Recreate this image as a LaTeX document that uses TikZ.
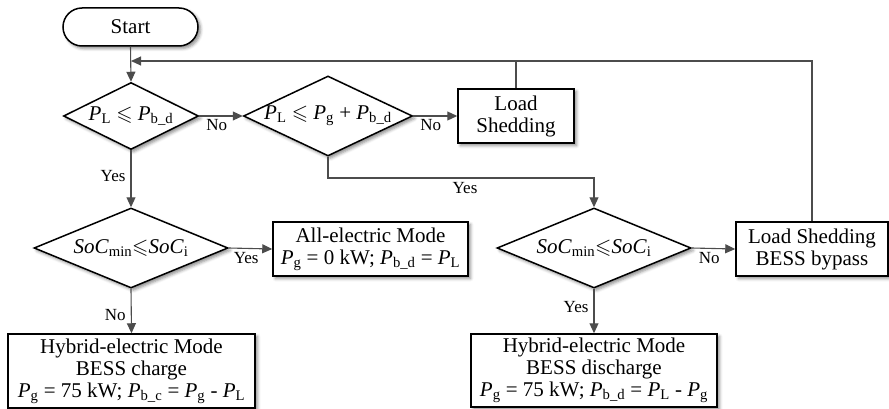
\documentclass[tikz,border=0pt]{standalone}
\usepackage{amssymb}
\usepackage{fontspec}
\setmainfont{Liberation Serif}
\usetikzlibrary{shapes.geometric,shapes.misc,arrows.meta,shadows.blur}
\newcommand\Pw[1]{\textit{P}\textsubscript{#1}}
\newcommand\Socw[1]{\textit{SoC}\textsubscript{#1}}
\begin{document}
\begin{tikzpicture}[x=1pt,y=-1pt,
  shad/.style={blur shadow={shadow xshift=2.5pt,shadow yshift=-2.5pt,shadow blur radius=3pt,shadow opacity=45}},
  txt/.style={font=\fontsize{21}{22}\selectfont},
  boxn/.style={txt,draw=black,line width=1.5pt,fill=white,shad,rectangle,align=center,inner sep=0pt},
  dia/.style={draw=black,line width=1.5pt,fill=white,shad,diamond,inner sep=0pt},
  term/.style={txt,draw=black,line width=1.5pt,fill=white,shad,rounded rectangle,inner sep=0pt},
  conn/.style={draw=black!70,line width=1.1pt},
  arr/.style={conn,-{Triangle[length=10pt,width=9pt]}},
  lab/.style={font=\fontsize{17}{18}\selectfont,inner sep=1pt}]
\useasboundingbox (0,0) rectangle (889,409);
% nodes
\node[term,minimum width=135,minimum height=38] (start) at (130.5,27) {Start};
\coordinate (merge) at (131,61);
\node[dia,minimum width=135,minimum height=67] (d1) at (131,116) {};
\node[txt,inner sep=0pt] (d1t) at (131,116) {\Pw{L} $\leqslant$ \Pw{b\_d}};
\node[dia,minimum width=169,minimum height=80] (d2) at (328,116) {};
\node[txt,inner sep=0pt] (d2t) at (328,116) {\Pw{L} $\leqslant$ \Pw{g} + \Pw{b\_d}};
\node[boxn,minimum width=116,minimum height=54] (ls) at (516,116) {Load\\Shedding};
\node[dia,minimum width=194,minimum height=80] (d3a) at (131,248) {};
\node[txt,inner sep=0pt] (d3at) at (131,248) {\Socw{min}$\leqslant$\Socw{i}};
\node[boxn,minimum width=195,minimum height=54] (ae) at (370.5,249) {All-electric Mode\\\Pw{g} = 0 kW; \Pw{b\_d} = \Pw{L}};
\node[dia,minimum width=194,minimum height=80] (d3b) at (594,248) {};
\node[txt,inner sep=0pt] (d3bt) at (594,248) {\Socw{min}$\leqslant$\Socw{i}};
\node[boxn,minimum width=152,minimum height=54] (lsb) at (812,249) {Load Shedding\\BESS bypass};
\node[boxn,minimum width=247,minimum height=74] (hc) at (131.5,371) {Hybrid-electric Mode\\BESS charge\\\Pw{g} = 75 kW; \Pw{b\_c} = \Pw{g} - \Pw{L}};
\node[boxn,minimum width=246,minimum height=73] (hd) at (594,370.5) {Hybrid-electric Mode\\BESS discharge\\\Pw{g} = 75 kW; \Pw{b\_d} = \Pw{L} - \Pw{g}};
\coordinate (yb) at (328,178);
% connectors
\draw[arr] (start.south) -- (d1.north);
\draw[arr] (lsb.north) |- (merge);
\draw[conn] (ls.north) -- (ls.north |- merge);
\draw[arr] (d1.east) -- (d2.west) node[lab,pos=0.4,anchor=north,yshift=-2pt] (n1) {No};
\draw[arr] (d2.east) -- (ls.west) node[lab,pos=0.4,anchor=north,yshift=-2pt] (n2) {No};
\draw[arr] (d2.south) -- (yb) -| (d3b.north);
\node[lab] (y2) at (465,188) {Yes};
\draw[arr] (d1.south) -- (d3a.north) node[lab,pos=0.45,left=4pt] (y1) {Yes};
\draw[arr] (d3a.east) -- (ae.west) node[lab,pos=0.4,anchor=north,yshift=-2pt] (y3) {Yes};
\draw[arr] (d3a.south) -- (hc.north) node[lab,pos=0.6,left=4pt] (n3) {No};
\draw[arr] (d3b.east) -- (lsb.west) node[lab,pos=0.4,anchor=north,yshift=-2pt] (n4) {No};
\draw[arr] (d3b.south) -- (hd.north) node[lab,pos=0.4,left=4pt] (y4) {Yes};
\end{tikzpicture}
\end{document}
